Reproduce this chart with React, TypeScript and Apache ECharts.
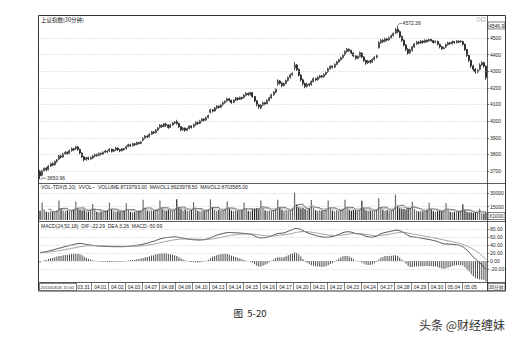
import React, { useEffect, useRef } from "react";
import * as echarts from "echarts";

// ---- trading calendar (30-minute bars) ----
const DAYS = [
  "2015/03/26", "2015/03/27", "2015/03/30", "2015/03/31", "2015/04/01", "2015/04/02", "2015/04/03",
  "2015/04/07", "2015/04/08", "2015/04/09", "2015/04/10", "2015/04/13", "2015/04/14", "2015/04/15",
  "2015/04/16", "2015/04/17", "2015/04/20", "2015/04/21", "2015/04/22", "2015/04/23", "2015/04/24",
  "2015/04/27", "2015/04/28", "2015/04/29", "2015/04/30", "2015/05/04", "2015/05/05", "2015/05/06",
];
const SLOTS = ["10:00", "10:30", "11:00", "11:30", "13:30", "14:00", "14:30", "15:00"];

// ---- price bars: [open, close, low, high] ----
const CANDLES: number[][] = [
  // 03-26
  [3698, 3672, 3650.96, 3706],
  // 03-27
  [3675, 3702, 3668, 3708], [3702, 3716, 3697, 3722], [3716, 3708, 3700, 3724], [3708, 3730, 3704, 3736], [3730, 3744, 3724, 3750], [3744, 3737, 3729, 3752], [3737, 3758, 3733, 3763], [3758, 3766, 3750, 3772],
  // 03-30
  [3772, 3790, 3766, 3797], [3790, 3784, 3775, 3798], [3784, 3803, 3780, 3810], [3803, 3812, 3797, 3820], [3812, 3806, 3798, 3818], [3806, 3822, 3801, 3829], [3822, 3834, 3815, 3842], [3834, 3829, 3820, 3840],
  // 03-31
  [3836, 3845, 3826, 3852], [3845, 3830, 3822, 3849], [3830, 3808, 3800, 3834], [3808, 3786, 3778, 3812], [3786, 3768, 3757, 3790], [3768, 3780, 3762, 3786], [3780, 3773, 3765, 3787], [3773, 3781, 3768, 3788],
  // 04-01
  [3778, 3790, 3772, 3797], [3790, 3799, 3784, 3805], [3799, 3794, 3786, 3806], [3794, 3806, 3789, 3812], [3806, 3801, 3793, 3811], [3801, 3813, 3796, 3818], [3813, 3820, 3807, 3826], [3820, 3817, 3809, 3825],
  // 04-02
  [3822, 3831, 3814, 3838], [3831, 3819, 3811, 3835], [3819, 3826, 3812, 3832], [3826, 3838, 3821, 3844], [3838, 3829, 3820, 3842], [3829, 3822, 3813, 3833], [3822, 3834, 3818, 3839], [3834, 3830, 3823, 3838],
  // 04-03
  [3836, 3848, 3829, 3853], [3848, 3858, 3843, 3864], [3858, 3852, 3845, 3863], [3852, 3864, 3848, 3870], [3864, 3859, 3851, 3868], [3859, 3871, 3855, 3877], [3871, 3866, 3860, 3875], [3866, 3874, 3861, 3880],
  // 04-07
  [3885, 3897, 3879, 3904], [3897, 3910, 3891, 3916], [3910, 3906, 3898, 3915], [3906, 3921, 3902, 3928], [3921, 3935, 3916, 3941], [3935, 3930, 3922, 3940], [3930, 3946, 3927, 3952], [3946, 3958, 3941, 3964],
  // 04-08
  [3962, 3975, 3955, 3982], [3975, 3968, 3960, 3980], [3968, 3983, 3964, 3989], [3983, 3976, 3966, 3988], [3976, 3962, 3954, 3980], [3962, 3977, 3958, 3983], [3977, 3988, 3971, 3995], [3988, 3994, 3982, 4001],
  // 04-09
  [3998, 3985, 3978, 4008], [3985, 3966, 3958, 3990], [3966, 3948, 3939, 3971], [3948, 3958, 3941, 3964], [3958, 3945, 3936, 3962], [3945, 3956, 3940, 3961], [3956, 3970, 3950, 3976], [3970, 3962, 3955, 3975],
  // 04-10
  [3966, 3979, 3961, 3985], [3979, 3992, 3973, 3998], [3992, 3986, 3978, 3997], [3986, 4001, 3982, 4008], [4001, 4012, 3995, 4018], [4012, 4006, 3998, 4017], [4006, 4021, 4002, 4027], [4021, 4034, 4016, 4040],
  // 04-13
  [4052, 4068, 4045, 4075], [4068, 4061, 4052, 4073], [4061, 4079, 4057, 4085], [4079, 4090, 4072, 4096], [4090, 4083, 4075, 4094], [4083, 4099, 4079, 4105], [4099, 4111, 4093, 4117], [4111, 4118, 4104, 4125],
  // 04-14
  [4122, 4134, 4114, 4141], [4134, 4125, 4117, 4138], [4125, 4112, 4104, 4129], [4112, 4126, 4108, 4131], [4126, 4139, 4121, 4146], [4139, 4131, 4123, 4142], [4131, 4142, 4127, 4148], [4142, 4137, 4129, 4147],
  // 04-15
  [4142, 4155, 4136, 4162], [4155, 4167, 4149, 4174], [4167, 4160, 4152, 4172], [4160, 4171, 4154, 4177], [4171, 4148, 4140, 4175], [4148, 4122, 4113, 4152], [4122, 4098, 4088, 4126], [4098, 4086, 4074, 4104],
  // 04-16
  [4080, 4096, 4071, 4102], [4096, 4110, 4090, 4117], [4110, 4104, 4095, 4116], [4104, 4124, 4100, 4131], [4124, 4140, 4118, 4146], [4140, 4158, 4134, 4164], [4158, 4174, 4152, 4180], [4174, 4192, 4168, 4198],
  // 04-17
  [4225, 4241, 4212, 4252], [4241, 4228, 4219, 4247], [4228, 4214, 4203, 4234], [4214, 4226, 4208, 4233], [4226, 4244, 4221, 4250], [4244, 4262, 4238, 4268], [4262, 4279, 4256, 4286], [4279, 4287, 4272, 4294],
  // 04-20
  [4320, 4338, 4306, 4356], [4338, 4311, 4302, 4343], [4311, 4276, 4268, 4316], [4276, 4248, 4238, 4282], [4248, 4226, 4212, 4255], [4226, 4209, 4198, 4232], [4209, 4222, 4201, 4230], [4222, 4217, 4208, 4228],
  // 04-21
  [4220, 4238, 4213, 4245], [4238, 4256, 4232, 4262], [4256, 4249, 4240, 4261], [4249, 4264, 4244, 4270], [4264, 4272, 4257, 4279], [4272, 4266, 4258, 4277], [4266, 4281, 4262, 4287], [4281, 4293, 4276, 4299],
  // 04-22
  [4297, 4315, 4290, 4322], [4315, 4330, 4309, 4336], [4330, 4324, 4315, 4335], [4324, 4341, 4319, 4348], [4341, 4356, 4336, 4362], [4356, 4369, 4350, 4375], [4369, 4381, 4363, 4388], [4381, 4396, 4376, 4402],
  // 04-23
  [4400, 4418, 4392, 4425], [4418, 4432, 4411, 4441], [4432, 4425, 4416, 4437], [4425, 4410, 4401, 4429], [4410, 4392, 4384, 4414], [4392, 4378, 4369, 4396], [4378, 4389, 4372, 4394], [4389, 4412, 4384, 4418],
  // 04-24
  [4408, 4386, 4378, 4414], [4386, 4365, 4356, 4390], [4365, 4350, 4338, 4369], [4350, 4362, 4343, 4368], [4362, 4355, 4345, 4367], [4355, 4371, 4350, 4376], [4371, 4384, 4365, 4390], [4384, 4393, 4377, 4400],
  // 04-27
  [4441, 4472, 4436, 4481], [4472, 4486, 4465, 4494], [4486, 4479, 4470, 4492], [4479, 4495, 4474, 4502], [4495, 4488, 4480, 4500], [4488, 4502, 4483, 4508], [4502, 4514, 4496, 4521], [4514, 4527, 4509, 4534],
  // 04-28
  [4530, 4551, 4522, 4560], [4551, 4538, 4528, 4572.39], [4538, 4509, 4500, 4545], [4509, 4486, 4477, 4515], [4486, 4458, 4449, 4492], [4458, 4432, 4421, 4463], [4432, 4410, 4398, 4438], [4410, 4428, 4402, 4435],
  // 04-29
  [4425, 4446, 4418, 4452], [4446, 4464, 4440, 4470], [4464, 4475, 4458, 4482], [4475, 4469, 4461, 4480], [4469, 4481, 4464, 4487], [4481, 4474, 4466, 4485], [4474, 4486, 4469, 4491], [4486, 4479, 4472, 4490],
  // 04-30
  [4483, 4491, 4476, 4497], [4491, 4484, 4477, 4495], [4484, 4473, 4466, 4488], [4473, 4480, 4468, 4485], [4480, 4462, 4455, 4483], [4462, 4447, 4437, 4466], [4447, 4436, 4428, 4451], [4436, 4441, 4431, 4448],
  // 05-04
  [4446, 4460, 4440, 4467], [4460, 4471, 4454, 4478], [4471, 4466, 4458, 4475], [4466, 4478, 4461, 4484], [4478, 4472, 4465, 4482], [4472, 4481, 4467, 4487], [4481, 4476, 4469, 4485], [4476, 4480, 4471, 4486],
  // 05-05
  [4478, 4462, 4455, 4484], [4462, 4430, 4422, 4466], [4430, 4395, 4386, 4434], [4395, 4366, 4355, 4399], [4366, 4332, 4320, 4370], [4332, 4312, 4300, 4338], [4312, 4296, 4284, 4318], [4296, 4305, 4289, 4312],
  // 05-06
  [4311, 4338, 4305, 4348], [4338, 4352, 4331, 4360], [4352, 4330, 4322, 4357], [4330, 4262, 4248, 4334],
];

// ---- volume, in units of 1000 ----
const VOLUMES: number[] = [
  10400,
  19500, 11800, 9300, 8700, 9900, 8800, 9100, 10600,
  21800, 12600, 10200, 9400, 10800, 9700, 10300, 11900,
  20400, 13100, 11000, 10600, 11700, 9800, 9200, 10500,
  17800, 11500, 9100, 8600, 9500, 8900, 9700, 10800,
  19200, 12100, 9600, 8800, 9900, 9400, 8700, 10200,
  18600, 11200, 9000, 8500, 9300, 8800, 9600, 10700,
  22400, 13600, 10400, 9700, 10600, 9900, 10800, 12200,
  21600, 12900, 11100, 10300, 11600, 10900, 10100, 11800,
  23100, 14200, 12100, 10600, 11900, 10400, 9800, 11300,
  19800, 12300, 10300, 9500, 10700, 9900, 10400, 11600,
  22900, 13800, 11200, 10100, 11400, 10200, 10900, 12100,
  20600, 12700, 10500, 9800, 10900, 10100, 9600, 10800,
  19400, 12200, 10100, 9400, 11800, 12900, 13400, 12600,
  21700, 13300, 10800, 9900, 10700, 10300, 11200, 12400,
  22400, 13900, 11300, 10200, 11100, 10500, 10900, 12300,
  30500, 17200, 14100, 12800, 13300, 12200, 11400, 12900,
  22300, 13400, 11000, 10100, 10900, 10300, 10600, 11800,
  21800, 13100, 10600, 9800, 10700, 10200, 10900, 12100,
  22600, 13700, 11400, 10300, 11200, 10800, 10100, 11500,
  21400, 12900, 10900, 10400, 10600, 9900, 10200, 11400,
  24300, 14100, 11500, 10300, 11100, 10400, 10800, 12000,
  28200, 15800, 13100, 12600, 12300, 11800, 12900, 13400,
  20300, 12400, 10200, 9500, 10100, 9400, 9800, 10900,
  19100, 11700, 9800, 9100, 9900, 10200, 9700, 10400,
  18700, 11400, 9300, 8600, 9200, 8800, 9100, 10100,
  17500, 10800, 8920, 8310, 8640, 8185, 8360.9575, 8460,
  12560, 7620, 7260.0995, 8719.793,
];

// ---- MACD(24,52,18) ----
const DIF: number[] = [
  20.1,
  21.5, 22.6, 23.4, 24.8, 26.3, 27.2, 28.9, 30.4,
  32.1, 33.0, 34.6, 36.1, 37.2, 38.6, 40.3, 41.2,
  42.6, 43.5, 43.9, 43.6, 42.4, 41.6, 40.7, 39.9,
  39.1, 38.5, 37.8, 37.4, 37.0, 36.8, 36.7, 36.3,
  36.2, 35.8, 35.7, 35.9, 35.8, 35.6, 35.8, 35.9,
  36.3, 37.0, 37.4, 38.1, 38.5, 39.3, 39.9, 40.8,
  42.0, 43.5, 44.6, 46.2, 48.1, 49.3, 51.2, 53.3,
  55.1, 56.3, 57.7, 58.6, 58.9, 59.5, 60.1, 60.4,
  60.0, 59.2, 57.9, 57.1, 56.0, 55.0, 54.3, 53.6,
  53.1, 52.9, 52.4, 52.5, 52.9, 53.3, 54.4, 55.8,
  58.0, 60.6, 62.4, 64.3, 66.1, 67.5, 68.9, 70.1,
  71.0, 71.2, 70.8, 70.6, 70.7, 70.3, 69.9, 69.4,
  68.8, 68.4, 67.6, 66.9, 65.2, 62.9, 60.4, 58.3,
  57.6, 58.0, 58.4, 59.5, 61.0, 62.9, 64.8, 66.9,
  68.6, 69.2, 69.4, 70.5, 72.2, 74.3, 76.6, 78.6,
  80.9, 81.5, 80.6, 78.8, 76.1, 73.0, 70.9, 68.8,
  66.9, 65.5, 63.8, 62.6, 61.5, 60.2, 59.6, 59.4,
  59.6, 60.5, 61.2, 62.7, 64.5, 66.6, 68.7, 70.9,
  72.3, 73.2, 73.0, 72.1, 70.6, 68.8, 67.8, 67.7,
  66.0, 64.1, 61.7, 60.6, 59.6, 59.7, 60.6, 62.0,
  65.1, 67.9, 69.6, 71.4, 72.3, 73.4, 74.6, 75.8,
  76.9, 77.0, 75.6, 73.6, 70.8, 67.4, 63.7, 61.6,
  60.4, 60.0, 59.4, 58.2, 57.4, 56.2, 55.5, 54.5,
  53.8, 52.6, 51.2, 50.3, 48.6, 46.5, 44.3, 42.9,
  42.4, 42.3, 41.8, 41.9, 41.3, 40.6, 39.6, 37.9,
  35.8, 31.9, 26.9, 21.9, 15.6, 10.1, 4.8, 0.2,
  -4.5, -9.0, -14.8, -22.29,
];
const DEA: number[] = [
  22.0,
  21.6, 21.8, 22.0, 22.4, 22.9, 23.5, 24.1, 24.9,
  25.7, 26.6, 27.5, 28.5, 29.4, 30.5, 31.6, 32.6,
  33.6, 34.7, 35.6, 36.4, 37.0, 37.5, 37.9, 38.1,
  38.2, 38.2, 38.1, 38.0, 37.9, 37.8, 37.6, 37.5,
  37.3, 37.2, 37.0, 36.9, 36.8, 36.7, 36.6, 36.5,
  36.5, 36.5, 36.6, 36.7, 36.9, 37.1, 37.4, 37.8,
  38.2, 38.8, 39.5, 40.3, 41.2, 42.2, 43.2, 44.4,
  45.6, 46.8, 48.0, 49.1, 50.2, 51.3, 52.3, 53.1,
  53.9, 54.5, 54.8, 55.1, 55.2, 55.2, 55.1, 55.0,
  54.8, 54.6, 54.4, 54.2, 54.1, 54.0, 54.0, 54.2,
  54.6, 55.3, 56.1, 57.0, 58.0, 59.0, 60.1, 61.2,
  62.3, 63.3, 64.2, 65.0, 65.7, 66.3, 66.8, 67.2,
  67.5, 67.7, 67.7, 67.6, 67.4, 66.9, 66.2, 65.3,
  64.5, 63.8, 63.2, 62.8, 62.5, 62.5, 62.8, 63.2,
  63.8, 64.4, 65.0, 65.6, 66.3, 67.1, 68.0, 69.1,
  70.3, 71.5, 72.5, 73.2, 73.6, 73.6, 73.3, 72.8,
  72.1, 71.3, 70.4, 69.5, 68.6, 67.6, 66.7, 65.8,
  65.0, 64.4, 63.9, 63.6, 63.6, 63.9, 64.4, 65.1,
  65.9, 66.8, 67.5, 68.1, 68.4, 68.5, 68.4, 68.3,
  67.9, 67.3, 66.5, 65.6, 64.7, 63.9, 63.3, 63.0,
  63.2, 63.8, 64.5, 65.3, 66.1, 67.0, 67.9, 68.8,
  69.8, 70.7, 71.3, 71.6, 71.5, 70.9, 70.0, 69.0,
  67.9, 66.9, 65.9, 64.9, 63.9, 62.9, 61.9, 60.9,
  60.0, 59.0, 58.0, 57.0, 56.0, 54.9, 53.8, 52.6,
  51.5, 50.4, 49.3, 48.2, 47.0, 45.8, 44.5, 43.1,
  41.5, 39.6, 37.4, 34.9, 32.1, 29.1, 25.9, 22.5,
  18.6, 14.2, 8.9, 3.26,
];
const MACD: number[] = [
  -3.8,
  -0.2, 1.6, 2.8, 4.8, 6.8, 7.4, 9.6, 11.0,
  12.8, 12.8, 14.2, 15.2, 15.6, 16.2, 17.4, 17.2,
  18.0, 17.6, 16.6, 14.4, 10.8, 8.2, 5.6, 3.6,
  1.8, 0.6, -0.6, -1.2, -1.8, -2.0, -1.8, -2.4,
  -2.2, -2.8, -2.6, -2.0, -2.0, -2.2, -1.6, -1.2,
  -0.4, 1.0, 1.6, 2.8, 3.2, 4.4, 5.0, 6.0,
  7.6, 9.4, 10.2, 11.8, 13.8, 14.2, 16.0, 17.8,
  19.0, 19.0, 19.4, 19.0, 17.4, 16.4, 15.6, 14.6,
  12.2, 9.4, 6.2, 4.0, 1.6, -0.4, -1.6, -2.8,
  -3.4, -3.4, -4.0, -3.4, -2.4, -1.4, 0.8, 3.2,
  6.8, 10.6, 12.6, 14.6, 16.2, 17.0, 17.6, 17.8,
  17.4, 15.8, 13.2, 11.2, 10.0, 8.0, 6.2, 4.4,
  2.6, 1.4, -0.2, -1.4, -4.4, -8.0, -11.6, -14.0,
  -13.8, -11.6, -9.6, -6.6, -3.0, 0.8, 4.0, 7.4,
  9.6, 9.6, 8.8, 9.8, 11.8, 14.4, 17.2, 19.0,
  21.2, 20.0, 16.2, 11.2, 5.0, -1.2, -4.8, -8.0,
  -10.4, -11.6, -13.2, -13.8, -14.2, -14.8, -14.2, -12.8,
  -10.8, -7.8, -5.4, -1.8, 1.8, 5.4, 8.6, 11.6,
  12.8, 12.8, 11.0, 8.0, 4.4, 0.6, -1.2, -1.2,
  -3.8, -6.4, -9.6, -10.0, -10.2, -8.4, -5.4, -2.0,
  3.8, 8.2, 10.2, 12.2, 12.4, 12.8, 13.4, 14.0,
  14.2, 12.6, 8.6, 4.0, -1.4, -7.0, -12.6, -14.8,
  -15.0, -13.8, -13.0, -13.4, -13.0, -13.4, -12.8, -12.8,
  -12.4, -12.8, -13.6, -13.4, -14.8, -16.8, -19.0, -19.4,
  -18.2, -16.2, -15.0, -12.6, -11.4, -10.4, -9.8, -10.4,
  -11.4, -15.4, -21.0, -26.0, -33.0, -38.0, -42.2, -44.6,
  -46.2, -46.4, -47.4, -50.99,
];

// ---- axis tick values ----
const PRICE_TICKS = [3700, 3800, 3900, 4000, 4100, 4200, 4300, 4400, 4500];
const VOL_TICKS = [15000, 30000];
const MACD_TICKS = [-20, 0, 20, 40, 60, 80];

const FONT = '"Liberation Sans", "DejaVu Sans", "Noto Sans CJK SC", sans-serif';
const CJK = '"Noto Sans CJK SC", sans-serif';
const INK = "#222";

const categories: string[] = [];
const dayStarts = new Set<number>();
DAYS.forEach((d, k) => {
  const slots = k === 0 ? SLOTS.slice(7) : k === DAYS.length - 1 ? SLOTS.slice(0, 4) : SLOTS;
  dayStarts.add(categories.length);
  slots.forEach((s) => categories.push(`${d} ${s}`));
});

function movingAverage(src: number[], n: number): (number | string)[] {
  return src.map((_, i) => {
    if (i < n - 1) return "-";
    let s = 0;
    for (let j = i - n + 1; j <= i; j++) s += src[j];
    return s / n;
  });
}

const showDay = (index: number) => dayStarts.has(index) && index >= 17 && index < 209;

const gridLines = (values: number[]) => ({
  silent: true,
  symbol: ["none", "none"],
  label: { show: false },
  lineStyle: { color: "#c4c4c4", type: "dotted" as const, width: 0.6 },
  data: values.map((v) => ({ yAxis: v })),
});

function buildOption(): echarts.EChartsCoreOption {
  const valueAxis = (grid: number, min: number, max: number, ticks: number[], fmt: (v: number) => string) => ({
    type: "value",
    gridIndex: grid,
    position: "right",
    min,
    max,
    axisLine: { show: false },
    axisTick: { show: true, customValues: ticks, length: 2, lineStyle: { color: INK, width: 0.6 } },
    axisLabel: {
      customValues: ticks,
      fontSize: 5,
      color: INK,
      margin: 3,
      fontFamily: FONT,
      formatter: (v: number) => fmt(v),
    },
    splitLine: { show: false },
  });

  return {
    animation: false,
    backgroundColor: "#ffffff",
    textStyle: { fontFamily: FONT },
    grid: [
      { left: 39, right: 28, top: 16, height: 167 },
      { left: 39, right: 28, top: 184, height: 36 },
      { left: 39, right: 28, top: 222, height: 60 },
    ],
    xAxis: [0, 1, 2].map((g) => ({
      type: "category",
      gridIndex: g,
      data: categories,
      boundaryGap: true,
      position: "bottom",
      axisLine: { show: false, onZero: false },
      axisTick: {
        show: g === 2,
        interval: (i: number) => showDay(i),
        length: 8,
        lineStyle: { color: "#333", width: 0.6 },
      },
      axisLabel: {
        show: g === 2,
        interval: (i: number) => showDay(i),
        formatter: (v: string) => v.slice(5, 10).replace("/", "."),
        fontSize: 5,
        color: INK,
        margin: 2.5,
        align: "left",
        padding: [0, 0, 0, 1.5],
        fontFamily: FONT,
      },
      splitLine: { show: false },
    })),
    yAxis: [
      valueAxis(0, 3628, 4632, PRICE_TICKS, (v) => String(v)),
      valueAxis(1, 0, 40000, VOL_TICKS, (v) => String(v)),
      valueAxis(2, -52.5, 97.5, MACD_TICKS, (v) => v.toFixed(2)),
    ],
    series: [
      {
        type: "candlestick",
        name: "上证指数",
        xAxisIndex: 0,
        yAxisIndex: 0,
        data: CANDLES,
        barWidth: 1.5,
        silent: true,
        itemStyle: {
          color: "#ffffff",
          color0: "#1a1a1a",
          borderColor: "#2a2a2a",
          borderColor0: "#1a1a1a",
          borderWidth: 0.8,
        },
        markLine: gridLines(PRICE_TICKS),
      },
      {
        type: "bar",
        name: "VOLUME",
        xAxisIndex: 1,
        yAxisIndex: 1,
        barWidth: 1.2,
        silent: true,
        data: VOLUMES.map((v, i) => ({
          value: v,
          itemStyle: { color: CANDLES[i][1] >= CANDLES[i][0] ? "#6a6a6a" : "#222222" },
        })),
        markLine: gridLines(VOL_TICKS),
      },
      {
        type: "line",
        name: "MAVOL1",
        xAxisIndex: 1,
        yAxisIndex: 1,
        data: movingAverage(VOLUMES, 5),
        symbol: "none",
        silent: true,
        lineStyle: { color: "#333", width: 0.7 },
        z: 3,
      },
      {
        type: "line",
        name: "MAVOL2",
        xAxisIndex: 1,
        yAxisIndex: 1,
        data: movingAverage(VOLUMES, 10),
        symbol: "none",
        silent: true,
        lineStyle: { color: "#9a9a9a", width: 0.7 },
        z: 3,
      },
      {
        type: "bar",
        name: "MACD",
        xAxisIndex: 2,
        yAxisIndex: 2,
        barWidth: 0.8,
        silent: true,
        data: MACD,
        itemStyle: { color: "#4a4a4a" },
        markLine: gridLines(MACD_TICKS),
      },
      {
        type: "line",
        name: "DIF",
        xAxisIndex: 2,
        yAxisIndex: 2,
        data: DIF,
        symbol: "none",
        silent: true,
        lineStyle: { color: "#2a2a2a", width: 0.8 },
        z: 3,
      },
      {
        type: "line",
        name: "DEA",
        xAxisIndex: 2,
        yAxisIndex: 2,
        data: DEA,
        symbol: "none",
        silent: true,
        lineStyle: { color: "#8a8a8a", width: 0.8 },
        z: 3,
      },
    ],
  };
}

const txt = (x: number, y: number, text: string, size: number, extra: Record<string, unknown> = {}) => ({
  type: "text",
  x,
  y,
  silent: true,
  z: 20,
  style: {
    text,
    fontSize: size,
    fontFamily: FONT,
    fill: INK,
    textVerticalAlign: "middle",
    ...extra,
  },
});

const boxedText = (x: number, y: number, w: number, h: number, text: string, size: number) => [
  {
    type: "rect",
    silent: true,
    z: 19,
    shape: { x, y, width: w, height: h },
    style: { fill: "#ffffff", stroke: "#333", lineWidth: 0.6 },
  },
  txt(x + 1, y + h / 2, text, size),
];

const hline = (y: number, x1 = 38.5, x2 = 505.5) => ({
  type: "line",
  silent: true,
  z: 18,
  shape: { x1, y1: y, x2, y2: y },
  style: { stroke: "#333", lineWidth: 0.8 },
});

export default function App() {
  const ref = useRef<HTMLDivElement>(null);

  useEffect(() => {
    const el = ref.current;
    if (!el) return;
    const chart = echarts.init(el, null, { renderer: "svg" });
    chart.setOption(buildOption());

    // locate the extreme bars through the price axis
    let hiIdx = 0;
    let loIdx = 0;
    CANDLES.forEach((c, i) => {
      if (c[3] > CANDLES[hiIdx][3]) hiIdx = i;
      if (c[2] < CANDLES[loIdx][2]) loIdx = i;
    });
    const hi = CANDLES[hiIdx][3];
    const lo = CANDLES[loIdx][2];
    const hp = chart.convertToPixel({ xAxisIndex: 0, yAxisIndex: 0 }, [categories[hiIdx], hi]) as number[];
    const lp = chart.convertToPixel({ xAxisIndex: 0, yAxisIndex: 0 }, [categories[loIdx], lo]) as number[];

    const graphics: any[] = [
      // outer frame and panel separators
      {
        type: "rect",
        silent: true,
        z: 18,
        shape: { x: 38.5, y: 15.5, width: 467, height: 275.5 },
        style: { fill: "none", stroke: "#333", lineWidth: 1 },
      },
      hline(183.5),
      hline(221.5),
      hline(282.5),
      {
        type: "line",
        silent: true,
        z: 18,
        shape: { x1: 487.5, y1: 15.5, x2: 487.5, y2: 291 },
        style: { stroke: "#333", lineWidth: 0.8 },
      },
      // title and window icons
      txt(41, 20, "上证指数(30分钟)", 5.5, { fontFamily: CJK, fill: "#111" }),
      {
        type: "circle",
        silent: true,
        z: 20,
        shape: { cx: 478.5, cy: 19.5, r: 1.8 },
        style: { fill: "none", stroke: "#999", lineWidth: 0.6 },
      },
      {
        type: "rect",
        silent: true,
        z: 20,
        shape: { x: 481.5, y: 17.5, width: 3.6, height: 3.6 },
        style: { fill: "none", stroke: "#999", lineWidth: 0.6 },
      },
      ...boxedText(488, 22, 17, 7, "4546.9", 5),
      // extreme-value marks
      {
        type: "polyline",
        silent: true,
        z: 20,
        shape: { points: [[hp[0], hp[1] - 0.5], [hp[0] + 2, hp[1] - 2.5], [hp[0] + 4, hp[1] - 2.5]] },
        style: { fill: "none", stroke: "#333", lineWidth: 0.6 },
      },
      txt(hp[0] + 5, hp[1] - 2.5, hi.toFixed(2), 5),
      {
        type: "polyline",
        silent: true,
        z: 20,
        shape: { points: [[lp[0] + 0.5, lp[1]], [lp[0] + 3, lp[1] - 1], [lp[0] + 6, lp[1] - 1]] },
        style: { fill: "none", stroke: "#333", lineWidth: 0.6 },
      },
      txt(lp[0] + 7, lp[1] - 1, lo.toFixed(2), 5),
      // indicator headers
      txt(41, 187, "VOL-TDX(5,10)  VVOL--  VOLUME:8719793.00  MAVOL1:8923978.50  MAVOL2:8703585.00", 5),
      txt(41, 225.5, "MACD(24,52,18)  DIF:-22.29  DEA:3.26  MACD:-50.99", 5),
      ...boxedText(488, 212.5, 17, 7, "X1000", 5),
      // time axis boxes
      ...boxedText(39.5, 283.5, 37, 7, "2015/03/26 15:00", 4.3),
      ...boxedText(488, 283.5, 17, 7, "30分钟", 4.6),
      // caption and watermark
      txt(250, 313, "图  5-20", 9.5, { fontFamily: CJK, textAlign: "center", fill: "#222" }),
      txt(505, 324, "头条 @财经缠妹", 12, { fontFamily: CJK, textAlign: "right", fill: "#333" }),
    ];
    chart.setOption({ graphic: graphics });

    return () => chart.dispose();
  }, []);

  return (
    <div style={{ position: "fixed", left: 0, top: 0, width: 515, height: 340, background: "#fff" }}>
      <div ref={ref} style={{ width: 515, height: 340 }} />
    </div>
  );
}
